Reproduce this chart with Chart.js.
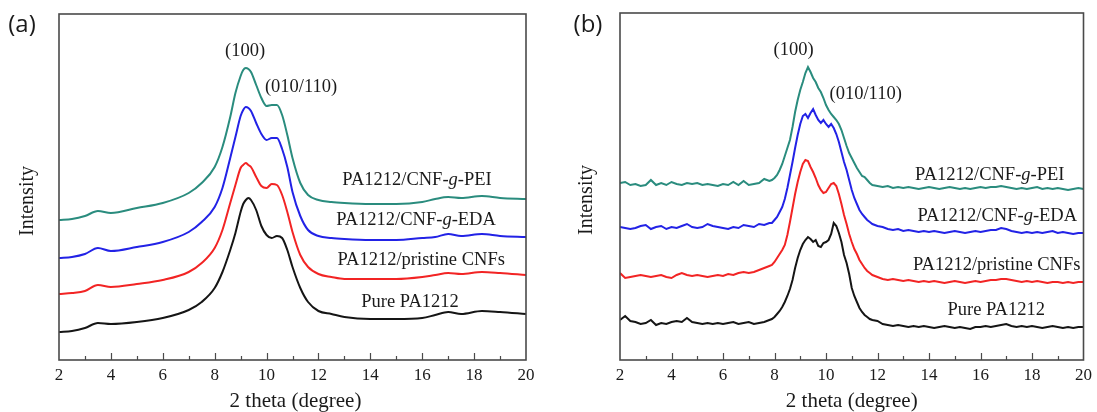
<!DOCTYPE html>
<html lang="en">
<head>
<meta charset="UTF-8">
<title>XRD patterns of PA1212 composites</title>
<script src="https://cdn.jsdelivr.net/npm/chart.js"></script>
<style>
  body { margin: 0; background: #fff; }
  #wrap { position: relative; width: 1097px; height: 412px; background: #fff; }
  canvas { position: absolute; top: 0; }
</style>
</head>
<body>
<div id="wrap">
  <canvas id="chartA" width="548" height="412" style="left:0"></canvas>
  <canvas id="chartB" width="549" height="412" style="left:548px"></canvas>
</div>
<script>
// series order: bottom to top
const seriesNames = ['Pure PA1212', 'PA1212/pristine CNFs', 'PA1212/CNF-g-EDA', 'PA1212/CNF-g-PEI'];
const seriesColors = ['#151515', '#f22424', '#2222e6', '#2a8c7e'];
const tickValues = [2, 4, 6, 8, 10, 12, 14, 16, 18, 20];

// (a) smoothed patterns
const thetaA = [2, 2.5, 3, 3.5, 4, 5, 6, 7, 7.5, 8, 8.3, 8.6, 8.8, 9.0, 9.1, 9.2, 9.3, 9.4, 9.6, 9.8,
                10.0, 10.2, 10.4, 10.6, 10.8, 11.0, 11.3, 11.6, 12, 12.5, 13, 14, 15, 16, 16.5, 17, 17.5, 18.3, 19, 20];
const pureA     = [28, 29, 32, 37, 36, 38, 42, 50, 58, 72, 88, 110, 127, 148, 156, 160, 162, 160, 150, 134,
                   125, 122, 124, 122, 110, 93, 72, 58, 49, 46, 43, 41, 41, 42, 45, 48, 46, 49, 48, 46];
const pristineA = [66, 67, 69, 75, 73, 76, 80, 88, 97, 112, 130, 157, 175, 192, 195, 197, 195, 193, 183, 174,
                   172, 176, 175, 165, 148, 128, 105, 93, 86, 83, 81, 81, 81, 83, 85, 87, 86, 88, 87, 85];
const edaA      = [102, 103, 106, 112, 109, 113, 118, 128, 138, 153, 172, 202, 223, 244, 250, 253, 252, 249, 237, 226,
                   220, 222, 222, 211, 193, 168, 144, 130, 124, 122, 121, 120, 120, 122, 123, 126, 124, 126, 124, 123];
const peiA      = [140, 141, 144, 149, 147, 152, 157, 167, 177, 193, 213, 243, 267, 284, 290, 292, 291, 288, 275, 262,
                   254, 255, 255, 245, 225, 202, 177, 165, 160, 158, 157, 156, 156, 158, 161, 163, 162, 164, 162, 161];

// (b) raw patterns
const thetaB = [2, 2.2, 2.4, 2.6, 2.8, 3, 3.2, 3.4, 3.6, 3.8, 4, 4.2, 4.4, 4.6, 4.8, 5, 5.2, 5.4, 5.6, 5.8,
                6, 6.2, 6.4, 6.6, 6.8, 7, 7.2, 7.4, 7.6, 7.8,
                7.9, 8, 8.1, 8.2, 8.3, 8.4, 8.5, 8.6, 8.7, 8.8, 8.9, 9, 9.1, 9.2, 9.3, 9.4, 9.5, 9.6, 9.7, 9.8,
                9.9, 10, 10.1, 10.2, 10.3, 10.4, 10.5, 10.6, 10.7, 10.8, 10.9, 11, 11.1, 11.2, 11.3, 11.4, 11.5, 11.6, 11.7, 11.8,
                12, 12.2, 12.4, 12.6, 12.8, 13, 13.2, 13.4, 13.6, 13.8, 14, 14.2, 14.4, 14.6, 14.8, 15, 15.2, 15.4, 15.6, 15.8,
                16, 16.2, 16.4, 16.6, 16.8, 17, 17.2, 17.4, 17.6, 17.8, 18, 18.2, 18.4, 18.6, 18.8, 19, 19.2, 19.4, 19.6, 19.8, 20];
const pureB = [40, 44, 39, 38, 36, 37, 40, 35, 37, 36, 38, 39, 38, 42, 38, 37, 36, 37, 36, 37,
               36, 37, 38, 36, 37, 38, 36, 37, 38, 40,
               41, 43, 46, 49, 53, 58, 64, 71, 80, 92, 102, 110, 116, 120, 123, 121, 118, 120, 114, 113,
               117, 118, 120, 126, 137, 134, 127, 118, 105, 97, 86, 72, 64, 58, 52, 48, 45, 43, 41, 40,
               39, 36, 35, 34, 35, 34, 33, 34, 33, 34, 33, 32, 33, 34, 33, 32, 33, 32, 31, 33,
               33, 34, 33, 34, 35, 36, 34, 33, 34, 33, 34, 33, 32, 33, 34, 33, 32, 33, 32, 33, 33];
const pristineB = [87, 82, 83, 84, 85, 84, 83, 84, 85, 83, 82, 85, 87, 85, 84, 85, 84, 83, 84, 85,
                   84, 86, 85, 87, 88, 87, 88, 90, 92, 94,
                   95, 98, 102, 106, 110, 115, 125, 138, 152, 166, 178, 188, 196, 200, 199, 193, 188, 182, 175, 170,
                   167, 168, 172, 176, 177, 174, 166, 156, 145, 136, 126, 118, 111, 106, 100, 96, 92, 89, 87, 85,
                   83, 81, 80, 81, 80, 79, 80, 79, 78, 79, 78, 79, 78, 77, 78, 79, 78, 77, 78, 79,
                   78, 79, 80, 80, 81, 81, 80, 79, 78, 79, 78, 79, 78, 77, 78, 78, 77, 78, 77, 78, 78];
const edaB = [133, 132, 131, 132, 134, 135, 131, 133, 134, 131, 133, 132, 134, 136, 133, 132, 133, 136, 134, 133,
              132, 131, 133, 132, 135, 134, 133, 136, 135, 137,
              137, 140, 143, 148, 153, 161, 172, 185, 198, 212, 225, 236, 244, 246, 242, 247, 251, 245, 240, 237,
              240, 236, 233, 236, 232, 226, 218, 208, 198, 190, 180, 170, 162, 156, 150, 146, 143, 140, 138, 136,
              134, 133, 131, 130, 131, 129, 130, 129, 128, 129, 128, 129, 128, 127, 128, 129, 128, 127, 128, 129,
              128, 129, 130, 130, 132, 131, 129, 128, 127, 128, 127, 128, 127, 128, 129, 127, 128, 127, 126, 127, 127];
const peiB = [177, 178, 175, 176, 174, 175, 180, 175, 177, 175, 178, 176, 175, 177, 176, 177, 175, 176, 175, 174,
              176, 175, 178, 175, 179, 175, 176, 177, 181, 179,
              180, 182, 185, 190, 196, 204, 212, 220, 233, 248, 260, 270, 278, 287, 293, 288, 282, 278, 272, 268,
              262, 255, 250, 246, 243, 240, 236, 230, 222, 214, 207, 202, 197, 192, 188, 184, 183, 180, 177, 175,
              174, 173, 174, 172, 173, 172, 173, 172, 171, 172, 173, 172, 171, 172, 173, 172, 171, 172, 171, 172,
              173, 172, 173, 173, 174, 173, 172, 171, 172, 171, 172, 173, 171, 172, 171, 172, 171, 170, 171, 172, 171];

const SERIF = '"Liberation Serif", "Times New Roman", serif';

// draws "PA1212/CNF-g-PEI" with the g in italics
function drawName(ctx, text, cx, cy) {
  const runs = [];
  const parts = text.split('-g-');
  if (parts.length === 2) {
    runs.push([parts[0] + '-', false], ['g', true], ['-' + parts[1], false]);
  } else {
    runs.push([text, false]);
  }
  const fontOf = it => (it ? 'italic ' : '') + '18.5px ' + SERIF;
  let w = 0;
  runs.forEach(r => { ctx.font = fontOf(r[1]); w += ctx.measureText(r[0]).width; });
  let x = cx - w / 2;
  ctx.textAlign = 'left';
  ctx.textBaseline = 'middle';
  runs.forEach(r => {
    ctx.font = fontOf(r[1]);
    ctx.fillText(r[0], x, cy);
    x += ctx.measureText(r[0]).width;
  });
}

const decor = {
  id: 'decor',
  afterDraw(chart, args, o) {
    const ctx = chart.ctx, a = chart.chartArea;
    const xs = chart.scales.x, ys = chart.scales.y;
    ctx.save();

    // box around the plot
    ctx.strokeStyle = '#4a4a4a';
    ctx.lineWidth = 1.6;
    ctx.strokeRect(a.left, a.top, a.right - a.left, a.bottom - a.top);

    // inward ticks on the bottom axis, minor ones at odd angles
    ctx.lineWidth = 1.2;
    ctx.beginPath();
    for (let v = xs.min + 1; v < xs.max; v++) {
      const px = Math.round(xs.getPixelForValue(v)) + 0.5;
      const len = v % 2 === 0 ? 7 : 4;
      ctx.moveTo(px, a.bottom);
      ctx.lineTo(px, a.bottom - len);
    }
    ctx.stroke();

    ctx.fillStyle = '#1a1a1a';
    // curve labels and reflections
    o.notes.forEach(n => drawName(ctx, n.text, xs.getPixelForValue(n.x), ys.getPixelForValue(n.y)));

    // axis titles
    ctx.font = '21px ' + SERIF;
    ctx.textAlign = 'center';
    ctx.textBaseline = 'alphabetic';
    ctx.fillText('2 theta (degree)', (a.left + a.right) / 2 + o.xTitleShift, 407);
    ctx.save();
    ctx.translate(o.yTitleX, o.yTitleY);
    ctx.rotate(-Math.PI / 2);
    ctx.font = '20px ' + SERIF;
    ctx.textBaseline = 'middle';
    ctx.fillText('Intensity', 0, 0);
    ctx.restore();

    // panel letter
    ctx.font = '24px "Open Sans", "Noto Sans", sans-serif';
    ctx.textAlign = 'center';
    ctx.textBaseline = 'middle';
    ctx.fillText(o.panel, o.panelX, o.panelY);
    ctx.restore();
  }
};

function makeChart(id, theta, series, smooth, opts) {
  const datasets = series.map((vals, i) => ({
    label: seriesNames[i],
    data: theta.map((t, k) => ({ x: t, y: vals[k] })),
    borderColor: seriesColors[i],
    borderWidth: 2,
    pointRadius: 0,
    fill: false,
    tension: 0,
    cubicInterpolationMode: smooth ? 'monotone' : 'default'
  }));
  return new Chart(document.getElementById(id), {
    type: 'line',
    data: { datasets },
    plugins: [decor],
    options: {
      responsive: false,
      animation: false,
      layout: { padding: opts.padding },
      plugins: {
        legend: { display: false },
        tooltip: { enabled: false },
        decor: opts.decor
      },
      scales: {
        x: {
          type: 'linear',
          min: 2,
          max: 20,
          afterBuildTicks: s => { s.ticks = tickValues.map(v => ({ value: v })); },
          afterFit: s => { s.height = 52; },
          grid: { display: false, drawTicks: false },
          border: { display: false },
          ticks: {
            color: '#1a1a1a',
            padding: 5,
            maxRotation: 0,
            font: { family: SERIF, size: 17 }
          }
        },
        y: { display: false, min: 0, max: opts.yMax }
      }
    }
  });
}

makeChart('chartA', thetaA, [pureA, pristineA, edaA, peiA], true, {
  padding: { left: 59, right: 22, top: 14, bottom: 0 },
  yMax: 346,
  decor: {
    panel: '(a)', panelX: 22, panelY: 25,
    yTitleX: 28, yTitleY: 201, xTitleShift: 3,
    notes: [
      { text: '(100)', x: 9.17, y: 309 },
      { text: '(010/110)', x: 11.33, y: 273 },
      { text: seriesNames[3], x: 15.8, y: 180 },
      { text: seriesNames[2], x: 15.76, y: 140 },
      { text: seriesNames[1], x: 15.96, y: 100 },
      { text: seriesNames[0], x: 15.53, y: 58 }
    ]
  }
});

makeChart('chartB', thetaB, [pureB, pristineB, edaB, peiB], false, {
  padding: { left: 72, right: 7, top: 13, bottom: 0 },
  yMax: 347,
  decor: {
    panel: '(b)', panelX: 40, panelY: 25,
    yTitleX: 39, yTitleY: 200, xTitleShift: 0,
    notes: [
      { text: '(100)', x: 8.74, y: 310 },
      { text: '(010/110)', x: 11.54, y: 266 },
      { text: seriesNames[3], x: 16.36, y: 185 },
      { text: seriesNames[2], x: 16.65, y: 144 },
      { text: seriesNames[1], x: 16.63, y: 95 },
      { text: seriesNames[0], x: 16.61, y: 50 }
    ]
  }
});
</script>
</body>
</html>
